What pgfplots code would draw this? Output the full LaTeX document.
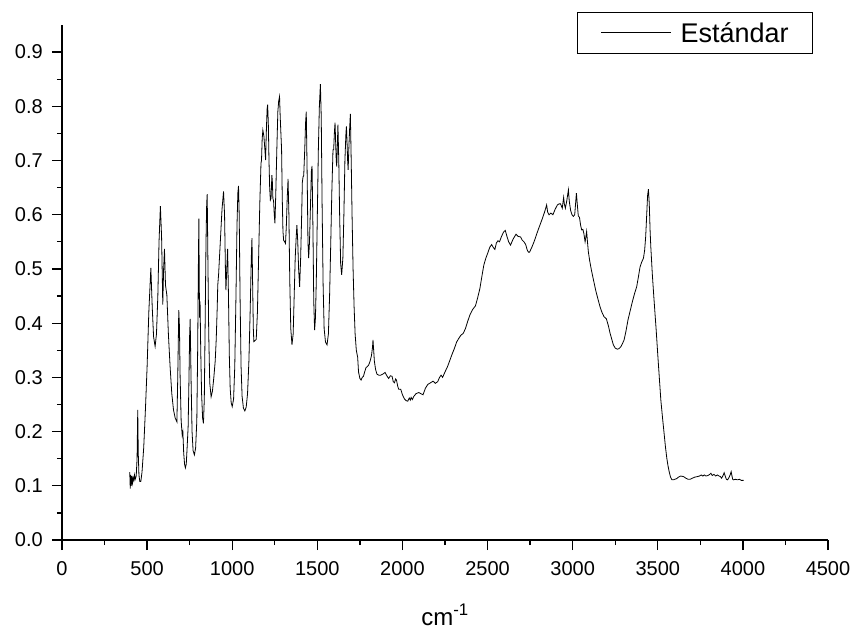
\documentclass[border=0pt]{standalone}
\usepackage{pgfplots}
\pgfplotsset{compat=1.18}
\usepackage{fontspec}
\setmainfont{Liberation Sans}
\begin{document}
\begin{tikzpicture}
\useasboundingbox (-62pt,-91pt) rectangle (794pt,540pt);
\begin{axis}[
  at={(0pt,0pt)}, anchor=south west,
  width=766pt, height=515pt, scale only axis,
  xmin=0, xmax=4500, ymin=0, ymax=0.95,
  axis x line*=bottom, axis y line*=left,
  axis line style={line width=1.3pt},
  every tick/.style={black, line width=1.3pt},
  tick align=outside,
  major tick length=10pt, minor tick length=5pt,
  xtick={0,500,...,4500}, ytick={0,0.1,...,0.9},
  minor x tick num=1, minor y tick num=1,
  /pgf/number format/assume math mode=true,
  /pgf/number format/1000 sep={},
  tick label style={font=\fontsize{20}{22}\selectfont},
  yticklabel style={/pgf/number format/fixed, /pgf/number format/fixed zerofill, /pgf/number format/precision=1, anchor=east, inner xsep=0pt, xshift=-9pt},
  xticklabel style={anchor=north, inner ysep=0pt, yshift=-11pt},
  xlabel={cm\textsuperscript{-1}},
  xlabel style={at={(axis description cs:0.5,0)}, anchor=base, yshift=-85pt, font=\fontsize{24}{26}\selectfont},
  legend style={at={(rel axis cs:0.980,1.025)}, anchor=north east, draw=black, line width=0.9pt,
    font=\fontsize{27}{30}\selectfont, inner xsep=23.5pt, inner ysep=10.5pt,
    nodes={inner xsep=0pt, inner ysep=0pt, text height=19.5pt, text depth=0pt}},
  legend image code/.code={\draw[#1] (0pt,0pt) -- (70pt,0pt);},
]
\addplot[black, line width=0.8pt] coordinates {
(398,0.125)(401,0.095)(404,0.12)(407,0.10)(410,0.118)(414,0.105)(418,0.115)(422,0.11)(426,0.12)(430,0.112)(436,0.118)(441,0.15)(445,0.24)(448,0.16)(452,0.12)(457,0.108)(463,0.108)(470,0.125)(480,0.17)(490,0.24)(500,0.32)(510,0.42)(522,0.502)(530,0.43)(538,0.375)(547,0.357)(555,0.38)(563,0.45)(570,0.55)(578,0.616)(585,0.56)(592,0.434)(597,0.50)(602,0.537)(608,0.47)(616,0.452)(625,0.38)(635,0.32)(645,0.27)(655,0.24)(665,0.225)(675,0.218)(680,0.30)(686,0.424)(690,0.394)(694,0.30)(700,0.22)(706,0.194)(710,0.20)(715,0.16)(720,0.14)(725,0.133)(730,0.14)(735,0.17)(741,0.209)(745,0.28)(750,0.38)(753,0.408)(758,0.30)(764,0.20)(770,0.165)(778,0.157)(785,0.17)(792,0.22)(797,0.35)(801,0.50)(804,0.593)(807,0.45)(808,0.41)(811,0.44)(815,0.35)(820,0.27)(826,0.225)(831,0.215)(836,0.26)(841,0.40)(846,0.55)(850,0.62)(853,0.638)(857,0.52)(862,0.38)(868,0.29)(876,0.264)(884,0.275)(892,0.30)(900,0.33)(906,0.37)(912,0.43)(915,0.47)(920,0.49)(930,0.55)(940,0.61)(949,0.643)(955,0.60)(960,0.50)(963,0.461)(968,0.50)(973,0.537)(978,0.45)(983,0.34)(988,0.28)(994,0.253)(1000,0.246)(1008,0.26)(1015,0.32)(1022,0.45)(1028,0.58)(1033,0.64)(1037,0.653)(1041,0.60)(1046,0.45)(1052,0.32)(1058,0.265)(1066,0.243)(1074,0.238)(1082,0.245)(1090,0.27)(1098,0.33)(1106,0.43)(1112,0.52)(1116,0.557)(1120,0.47)(1124,0.39)(1127,0.366)(1134,0.368)(1141,0.37)(1148,0.42)(1155,0.52)(1162,0.62)(1169,0.695)(1172,0.70)(1176,0.74)(1180,0.756)(1186,0.745)(1192,0.72)(1196,0.701)(1201,0.76)(1205,0.795)(1208,0.803)(1212,0.77)(1216,0.70)(1220,0.65)(1224,0.627)(1228,0.63)(1233,0.673)(1236,0.66)(1239,0.63)(1243,0.625)(1247,0.60)(1251,0.584)(1256,0.64)(1262,0.72)(1268,0.79)(1273,0.81)(1278,0.818)(1282,0.78)(1286,0.75)(1290,0.72)(1294,0.63)(1298,0.57)(1302,0.553)(1308,0.55)(1313,0.547)(1318,0.58)(1323,0.63)(1328,0.666)(1333,0.60)(1338,0.48)(1344,0.39)(1351,0.36)(1358,0.38)(1364,0.45)(1370,0.52)(1376,0.56)(1380,0.581)(1385,0.55)(1390,0.50)(1396,0.467)(1402,0.52)(1408,0.60)(1412,0.66)(1416,0.67)(1420,0.672)(1426,0.72)(1431,0.77)(1435,0.79)(1440,0.68)(1445,0.55)(1449,0.52)(1454,0.55)(1460,0.62)(1465,0.68)(1469,0.69)(1474,0.58)(1479,0.44)(1484,0.387)(1489,0.41)(1494,0.48)(1500,0.60)(1506,0.72)(1512,0.80)(1518,0.841)(1523,0.78)(1528,0.62)(1534,0.47)(1540,0.39)(1548,0.365)(1557,0.36)(1565,0.38)(1572,0.45)(1579,0.55)(1585,0.64)(1592,0.72)(1596,0.72)(1600,0.75)(1604,0.77)(1608,0.73)(1611,0.70)(1614,0.689)(1617,0.72)(1621,0.766)(1626,0.70)(1631,0.60)(1637,0.51)(1643,0.489)(1650,0.52)(1656,0.60)(1662,0.70)(1668,0.75)(1671,0.763)(1675,0.73)(1678,0.70)(1681,0.683)(1686,0.73)(1690,0.76)(1694,0.786)(1699,0.70)(1704,0.60)(1710,0.50)(1716,0.43)(1722,0.38)(1729,0.35)(1737,0.337)(1742,0.31)(1750,0.298)(1757,0.295)(1764,0.30)(1771,0.302)(1778,0.31)(1786,0.318)(1794,0.32)(1802,0.323)(1810,0.33)(1818,0.34)(1824,0.355)(1827,0.369)(1831,0.35)(1835,0.33)(1842,0.315)(1850,0.306)(1861,0.304)(1871,0.304)(1885,0.306)(1898,0.309)(1910,0.302)(1919,0.298)(1929,0.303)(1939,0.302)(1946,0.292)(1953,0.29)(1960,0.297)(1965,0.295)(1972,0.284)(1978,0.278)(1990,0.278)(2000,0.268)(2012,0.26)(2022,0.257)(2031,0.256)(2040,0.262)(2046,0.258)(2051,0.263)(2058,0.259)(2067,0.265)(2080,0.27)(2096,0.272)(2108,0.270)(2121,0.268)(2135,0.28)(2149,0.287)(2165,0.29)(2180,0.293)(2193,0.289)(2207,0.292)(2218,0.30)(2227,0.304)(2236,0.30)(2250,0.31)(2265,0.32)(2278,0.331)(2292,0.343)(2306,0.354)(2318,0.365)(2331,0.372)(2344,0.378)(2357,0.381)(2370,0.39)(2383,0.403)(2396,0.415)(2412,0.425)(2429,0.432)(2442,0.447)(2455,0.464)(2466,0.485)(2478,0.507)(2490,0.52)(2502,0.53)(2513,0.54)(2524,0.545)(2533,0.54)(2543,0.536)(2552,0.548)(2561,0.552)(2570,0.55)(2582,0.56)(2594,0.568)(2604,0.571)(2614,0.56)(2624,0.55)(2635,0.544)(2650,0.555)(2667,0.564)(2680,0.56)(2694,0.559)(2704,0.553)(2714,0.55)(2724,0.545)(2733,0.535)(2740,0.531)(2747,0.531)(2760,0.54)(2773,0.55)(2784,0.56)(2796,0.571)(2809,0.582)(2822,0.593)(2835,0.605)(2847,0.618)(2853,0.605)(2861,0.60)(2872,0.603)(2884,0.60)(2897,0.61)(2910,0.618)(2920,0.62)(2929,0.62)(2935,0.615)(2939,0.612)(2944,0.625)(2947,0.632)(2951,0.62)(2957,0.612)(2965,0.625)(2975,0.646)(2980,0.625)(2988,0.608)(2996,0.60)(3004,0.597)(3012,0.60)(3017,0.62)(3022,0.64)(3027,0.62)(3033,0.598)(3040,0.595)(3047,0.58)(3053,0.572)(3060,0.573)(3066,0.565)(3073,0.55)(3078,0.56)(3082,0.569)(3087,0.55)(3092,0.532)(3100,0.515)(3110,0.498)(3122,0.48)(3135,0.461)(3148,0.445)(3161,0.43)(3172,0.42)(3184,0.412)(3198,0.408)(3210,0.395)(3220,0.381)(3230,0.37)(3239,0.36)(3250,0.354)(3263,0.352)(3272,0.353)(3282,0.356)(3292,0.362)(3302,0.369)(3313,0.385)(3325,0.406)(3338,0.423)(3351,0.44)(3364,0.455)(3376,0.467)(3386,0.485)(3396,0.504)(3406,0.513)(3416,0.52)(3423,0.535)(3429,0.56)(3435,0.60)(3440,0.635)(3445,0.647)(3450,0.62)(3455,0.57)(3459,0.541)(3468,0.49)(3478,0.443)(3490,0.39)(3502,0.332)(3510,0.295)(3518,0.258)(3528,0.225)(3537,0.197)(3545,0.172)(3553,0.151)(3560,0.137)(3567,0.126)(3575,0.116)(3583,0.111)(3592,0.111)(3600,0.112)(3610,0.113)(3622,0.116)(3635,0.118)(3651,0.117)(3665,0.114)(3678,0.112)(3690,0.112)(3703,0.114)(3718,0.116)(3733,0.117)(3745,0.118)(3755,0.120)(3765,0.118)(3773,0.12)(3783,0.118)(3795,0.119)(3805,0.121)(3812,0.123)(3820,0.119)(3830,0.121)(3840,0.118)(3850,0.12)(3860,0.118)(3868,0.117)(3875,0.114)(3882,0.118)(3890,0.124)(3896,0.118)(3903,0.112)(3910,0.111)(3918,0.115)(3925,0.12)(3931,0.126)(3936,0.118)(3940,0.112)(3945,0.111)(3955,0.112)(3969,0.111)(3980,0.112)(3990,0.110)(4004,0.11)
};
\addlegendentry{\hspace*{9pt}Estándar}
\end{axis}
\end{tikzpicture}
\end{document}
